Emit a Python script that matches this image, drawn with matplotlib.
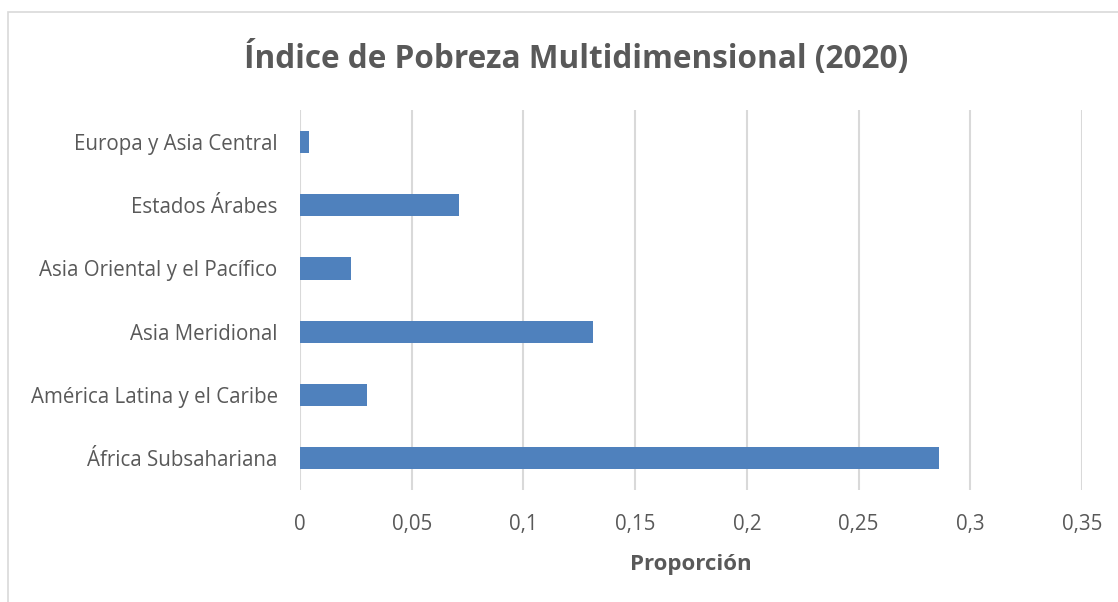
import matplotlib.pyplot as plt
from matplotlib.patches import Rectangle

regions = [
    "África Subsahariana",
    "América Latina y el Caribe",
    "Asia Meridional",
    "Asia Oriental y el Pacífico",
    "Estados Árabes",
    "Europa y Asia Central",
]
ipm = [0.286, 0.030, 0.131, 0.023, 0.071, 0.004]
xticks = [0, 0.05, 0.1, 0.15, 0.2, 0.25, 0.3, 0.35]
xtick_labels = ["0", "0,05", "0,1", "0,15", "0,2", "0,25", "0,3", "0,35"]

plt.rcParams["font.family"] = ["Open Sans", "DejaVu Sans"]
grey = "#595959"

fig = plt.figure(figsize=(11.18, 6.02), dpi=100)
ax = fig.add_axes([0.2683, 0.186, 0.6995, 0.631])

ax.barh(range(len(regions)), ipm, height=0.35, color="#4f81bd", zorder=3)
ax.set_ylim(-0.5, len(regions) - 0.5)
ax.set_xlim(0, 0.35)
ax.set_yticks(range(len(regions)))
ax.set_yticklabels(regions, color=grey, fontsize=14.8)
ax.set_xticks(xticks)
ax.set_xticklabels(xtick_labels, color=grey, fontsize=14.8)
ax.tick_params(axis="x", length=0, pad=17)
ax.tick_params(axis="y", length=0, pad=16)
ax.grid(axis="x", color="#d9d9d9", linewidth=1.5, zorder=0)
for s in ax.spines.values():
    s.set_visible(False)

ax.set_xlabel("Proporción", color=grey, fontsize=16, fontweight="bold", labelpad=14)
fig.text(0.515, 0.902, "Índice de Pobreza Multidimensional (2020)",
         ha="center", va="center", color=grey, fontsize=22.7, fontweight="bold")

# chart frame
fig.patches.append(Rectangle((8 / 1118, -0.05), 1.2, 1 - 12 / 602 + 0.05,
                             transform=fig.transFigure, fill=False,
                             edgecolor="#d9d9d9", linewidth=1.2))

fig.savefig("out.png", dpi=100)
